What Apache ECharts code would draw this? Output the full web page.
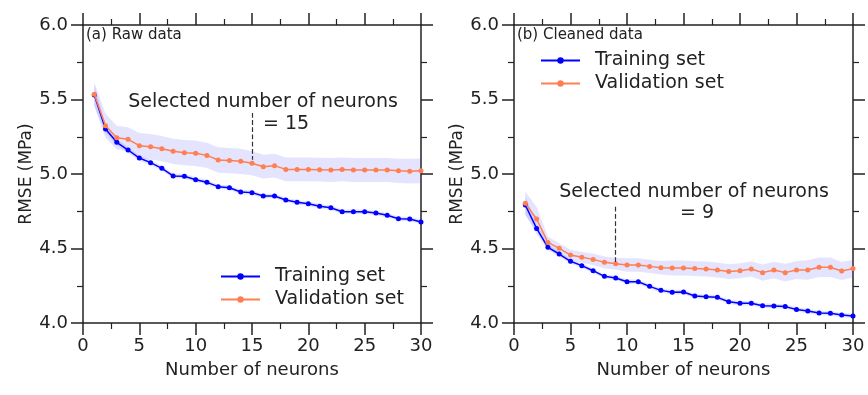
<!DOCTYPE html>
<html>
<head>
<meta charset="utf-8">
<style>
  * { margin: 0; padding: 0; }
  #container { width: 868px; height: 395px; background: #fff; }
</style>
</head>
<body>
<div id="container"></div>
<script src="https://cdn.jsdelivr.net/npm/echarts@6/dist/echarts.min.js"></script>
<script>
// number of neurons
var neurons = [];
for (var n = 1; n <= 30; n++) neurons.push(n);

// (a) raw data
var trainA = [5.53, 5.302, 5.213, 5.161, 5.107, 5.076, 5.038, 4.987, 4.985, 4.962,
              4.944, 4.915, 4.908, 4.879, 4.875, 4.852, 4.852, 4.826, 4.81, 4.80,
              4.783, 4.774, 4.747, 4.747, 4.747, 4.738, 4.723, 4.70, 4.698, 4.678];
var validA = [5.535, 5.324, 5.244, 5.233, 5.19, 5.183, 5.17, 5.152, 5.143, 5.139,
              5.125, 5.094, 5.09, 5.085, 5.072, 5.049, 5.056, 5.031, 5.031, 5.031,
              5.029, 5.027, 5.031, 5.027, 5.027, 5.027, 5.027, 5.021, 5.019, 5.021];
var trainStdA = [0.07, 0.03, 0.02, 0.02, 0.018, 0.018, 0.016, 0.016, 0.016, 0.016,
                 0.015, 0.015, 0.015, 0.015, 0.015, 0.015, 0.015, 0.015, 0.015, 0.015,
                 0.015, 0.015, 0.015, 0.015, 0.015, 0.015, 0.015, 0.015, 0.015, 0.015];
var validStdA = [0.08, 0.08, 0.08, 0.08, 0.085, 0.085, 0.085, 0.085, 0.085, 0.085,
                 0.085, 0.085, 0.085, 0.085, 0.08, 0.08, 0.08, 0.08, 0.08, 0.08,
                 0.08, 0.08, 0.08, 0.08, 0.08, 0.08, 0.08, 0.082, 0.083, 0.083];

// (b) cleaned data
var trainB = [4.792, 4.635, 4.508, 4.463, 4.414, 4.385, 4.351, 4.313, 4.302, 4.277,
              4.277, 4.246, 4.219, 4.206, 4.208, 4.181, 4.177, 4.172, 4.143, 4.132,
              4.132, 4.116, 4.114, 4.110, 4.090, 4.081, 4.067, 4.065, 4.054, 4.047];
var validB = [4.803, 4.698, 4.541, 4.501, 4.456, 4.441, 4.427, 4.407, 4.398, 4.389,
              4.389, 4.380, 4.371, 4.369, 4.369, 4.365, 4.362, 4.356, 4.345, 4.351,
              4.362, 4.338, 4.356, 4.338, 4.356, 4.356, 4.374, 4.374, 4.349, 4.365];
var trainStdB = [0.06, 0.04, 0.02, 0.018, 0.016, 0.016, 0.015, 0.015, 0.015, 0.015,
                 0.015, 0.015, 0.015, 0.015, 0.015, 0.015, 0.015, 0.015, 0.015, 0.015,
                 0.015, 0.015, 0.015, 0.015, 0.015, 0.015, 0.015, 0.015, 0.015, 0.015];
var validStdB = [0.08, 0.08, 0.04, 0.035, 0.035, 0.035, 0.04, 0.04, 0.04, 0.045,
                 0.045, 0.045, 0.045, 0.05, 0.05, 0.05, 0.05, 0.05, 0.05, 0.05,
                 0.05, 0.055, 0.055, 0.06, 0.06, 0.065, 0.065, 0.065, 0.06, 0.06];

var selectedA = 15, selectedB = 9;
var dashA = [5.41, 5.095];
var dashB = [4.78, 4.41];

var FONT = 'DejaVu Sans';
var INK = '#222';
var BLUE = '#0000ff';
var CORAL = '#ff7f50';
var BAND = 'rgba(90, 90, 255, 0.16)';

function pairs(ys) {
  return ys.map(function (y, i) { return [neurons[i], y]; });
}

function xAxes(gi) {
  var base = {
    type: 'value', gridIndex: gi, min: 0, max: 30, interval: 5,
    axisLine: { show: true, onZero: false, lineStyle: { color: INK, width: 1.5 } },
    axisTick: { show: true, length: 12, lineStyle: { color: INK, width: 1.5 } },
    minorTick: { show: true, splitNumber: 2, length: 6, lineStyle: { color: INK, width: 1.2 } },
    splitLine: { show: false },
    axisLabel: { color: INK, fontSize: 18, fontFamily: FONT, margin: 14 },
    name: 'Number of neurons', nameLocation: 'middle', nameGap: 38,
    nameTextStyle: { color: INK, fontSize: 18, fontFamily: FONT }
  };
  var top = echarts.util.merge({}, base, true);
  top.position = 'top';
  top.axisLabel = { show: false };
  top.name = '';
  return [base, top];
}
function yAxes(gi) {
  var base = {
    type: 'value', gridIndex: gi, min: 4, max: 6, interval: 0.5,
    axisLine: { show: true, onZero: false, lineStyle: { color: INK, width: 1.5 } },
    axisTick: { show: true, length: 12, lineStyle: { color: INK, width: 1.5 } },
    minorTick: { show: true, splitNumber: 2, length: 6, lineStyle: { color: INK, width: 1.2 } },
    splitLine: { show: false },
    axisLabel: { color: INK, fontSize: 18, fontFamily: FONT, margin: 15,
                 formatter: function (v) { return v.toFixed(1); } },
    name: 'RMSE (MPa)', nameLocation: 'middle', nameGap: 48,
    nameTextStyle: { color: INK, fontSize: 17, fontFamily: FONT }
  };
  var right = echarts.util.merge({}, base, true);
  right.position = 'right';
  right.axisLabel = { show: false };
  right.name = '';
  return [base, right];
}

// shaded +/- band drawn as one polygon through the axis scales
function bandSeries(axisIdx, mean, sd) {
  return {
    type: 'custom', xAxisIndex: axisIdx, yAxisIndex: axisIdx, silent: true, z: 1,
    data: [0],
    renderItem: function (params, api) {
      var pts = [];
      for (var i = 0; i < mean.length; i++) pts.push(api.coord([neurons[i], mean[i] + sd[i]]));
      for (var j = mean.length - 1; j >= 0; j--) pts.push(api.coord([neurons[j], mean[j] - sd[j]]));
      return { type: 'polygon', shape: { points: pts }, style: { fill: BAND, stroke: null } };
    }
  };
}

function panelSeries(axisIdx, train, valid, tsd, vsd, sel, dash) {
  return [
    bandSeries(axisIdx, valid, vsd),
    bandSeries(axisIdx, train, tsd),
    {
      type: 'line', name: 'Training set', xAxisIndex: axisIdx, yAxisIndex: axisIdx,
      data: pairs(train), symbol: 'circle', symbolSize: 5, showSymbol: true,
      itemStyle: { color: BLUE }, lineStyle: { color: BLUE, width: 1.5 }, z: 3
    },
    {
      type: 'line', name: 'Validation set', xAxisIndex: axisIdx, yAxisIndex: axisIdx,
      data: pairs(valid), symbol: 'circle', symbolSize: 5, showSymbol: true,
      itemStyle: { color: CORAL }, lineStyle: { color: CORAL, width: 1.5 }, z: 4,
      markLine: {
        silent: true, symbol: 'none', label: { show: false },
        lineStyle: { type: 'dashed', color: '#333', width: 1.2 },
        data: [[{ coord: [sel, dash[0]] }, { coord: [sel, dash[1]] }]]
      }
    }
  ];
}

var chart = echarts.init(document.getElementById('container'), null, { renderer: 'canvas' });

var xa = xAxes(0), xb = xAxes(1);
var ya = yAxes(0), yb = yAxes(1);

var legendBase = {
  orient: 'vertical', data: ['Training set', 'Validation set'],
  itemWidth: 39, itemHeight: 8, itemGap: 4,
  textStyle: { color: INK, fontSize: 19, fontFamily: FONT, padding: [0, 0, 0, 10] }
};

var option = {
  animation: false,
  backgroundColor: '#fff',
  grid: [
    { left: 83, top: 25, width: 338, height: 298 },
    { left: 514, top: 25, width: 339, height: 298 }
  ],
  xAxis: [xa[0], xa[1], xb[0], xb[1]],
  yAxis: [ya[0], ya[1], yb[0], yb[1]],
  legend: [
    echarts.util.extend({ left: 215, top: 262 }, legendBase),
    echarts.util.extend({ left: 535, top: 46 }, legendBase)
  ],
  graphic: [
    { type: 'text', left: 86, top: 28, style: { text: '(a) Raw data', font: '15px "DejaVu Sans"', fill: INK } },
    { type: 'text', left: 517, top: 28, style: { text: '(b) Cleaned data', font: '15px "DejaVu Sans"', fill: INK } },
    { type: 'text', x: 263, y: 102, style: { text: 'Selected number of neurons', font: '19px "DejaVu Sans"', fill: INK, align: 'center', verticalAlign: 'middle' } },
    { type: 'text', x: 263, y: 124, style: { text: '= 15', font: '19px "DejaVu Sans"', fill: INK, align: 'left', verticalAlign: 'middle' } },
    { type: 'text', x: 694, y: 192, style: { text: 'Selected number of neurons', font: '19px "DejaVu Sans"', fill: INK, align: 'center', verticalAlign: 'middle' } },
    { type: 'text', x: 697, y: 213, style: { text: '= 9', font: '19px "DejaVu Sans"', fill: INK, align: 'center', verticalAlign: 'middle' } }
  ],
  series: [].concat(
    panelSeries(0, trainA, validA, trainStdA, validStdA, selectedA, dashA),
    panelSeries(2, trainB, validB, trainStdB, validStdB, selectedB, dashB)
  )
};

chart.setOption(option);
</script>
</body>
</html>
